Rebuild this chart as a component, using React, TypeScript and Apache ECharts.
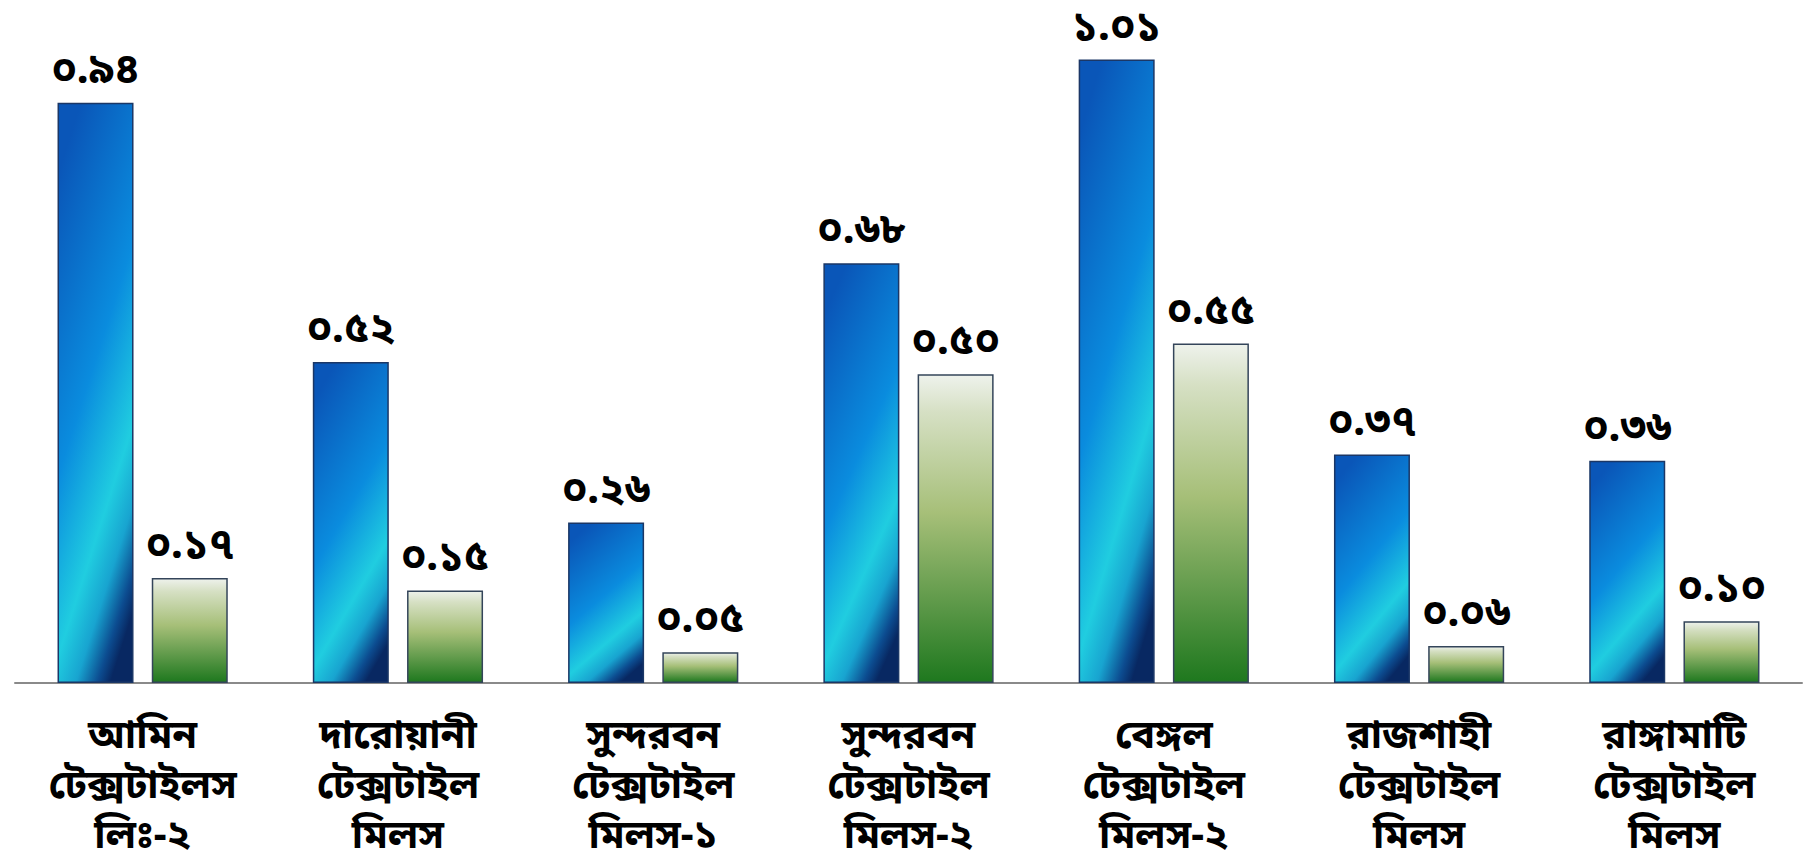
import React, { useEffect, useRef } from "react";
import * as echarts from "echarts";

const categories = [
  "আমিন\nটেক্সটাইলস\nলিঃ-২",
  "দারোয়ানী\nটেক্সটাইল\nমিলস",
  "সুন্দরবন\nটেক্সটাইল\nমিলস-১",
  "সুন্দরবন\nটেক্সটাইল\nমিলস-২",
  "বেঙ্গল\nটেক্সটাইল\nমিলস-২",
  "রাজশাহী\nটেক্সটাইল\nমিলস",
  "রাঙ্গামাটি\nটেক্সটাইল\nমিলস",
];
const blueValues = [0.94, 0.52, 0.26, 0.68, 1.01, 0.37, 0.36];
const greenValues = [0.17, 0.15, 0.05, 0.5, 0.55, 0.06, 0.1];

const bnDigits = ["০", "১", "২", "৩", "৪", "৫", "৬", "৭", "৮", "৯"];
const toBn = (v: number) =>
  v.toFixed(2).replace(/[0-9]/g, (d) => bnDigits[Number(d)]);

const FONT = "'Noto Sans Bengali', 'Noto Sans', 'DejaVu Sans', sans-serif";

export default function App() {
  const ref = useRef<HTMLDivElement>(null);
  useEffect(() => {
    if (!ref.current) return;
    const chart = echarts.init(ref.current, null, { renderer: "svg" });
    const blueFill = new echarts.graphic.LinearGradient(0.3, 0, 0.7, 1, [
      { offset: 0, color: "#0a56b8" },
      { offset: 0.45, color: "#0a8cde" },
      { offset: 0.72, color: "#20cde0" },
      { offset: 0.84, color: "#18a4d0" },
      { offset: 0.94, color: "#0c4c90" },
      { offset: 1, color: "#082862" },
    ]);
    const greenFill = new echarts.graphic.LinearGradient(0, 0, 0, 1, [
      { offset: 0, color: "#eef2ec" },
      { offset: 0.12, color: "#d6e0c4" },
      { offset: 0.45, color: "#a6bf78" },
      { offset: 0.75, color: "#5c9848" },
      { offset: 1, color: "#1e781e" },
    ]);
    const labelStyle = {
      show: true,
      position: "top" as const,
      distance: 10,
      formatter: (p: any) => toBn(p.value),
      fontFamily: FONT,
      fontSize: 42,
      fontWeight: "bold" as const,
      color: "#000",
    };
    chart.setOption({
      animation: false,
      backgroundColor: "#ffffff",
      grid: { left: 15, right: 13, top: 4, bottom: 185, containLabel: false },
      xAxis: {
        type: "category",
        data: categories,
        axisLine: { show: true, lineStyle: { color: "#8a8a8a", width: 2 } },
        axisTick: { show: false },
        axisLabel: {
          interval: 0,
          margin: 29,
          fontFamily: FONT,
          fontSize: 40,
          fontWeight: "bold",
          lineHeight: 50,
          color: "#000",
        },
      },
      yAxis: {
        type: "value",
        min: 0,
        max: 1.1,
        show: false,
        splitLine: { show: false },
      },
      series: [
        {
          type: "bar",
          data: blueValues,
          barWidth: 76,
          barGap: "24%",
          itemStyle: { color: blueFill, borderColor: "#1b3766", borderWidth: 1.5 },
          label: labelStyle,
        },
        {
          type: "bar",
          data: greenValues,
          barWidth: 76,
          itemStyle: { color: greenFill, borderColor: "#34455a", borderWidth: 1.5 },
          label: labelStyle,
        },
      ],
    });
    return () => chart.dispose();
  }, []);
  return (
    <div
      ref={ref}
      style={{ position: "fixed", left: 0, top: 0, width: 1815, height: 868 }}
    />
  );
}
